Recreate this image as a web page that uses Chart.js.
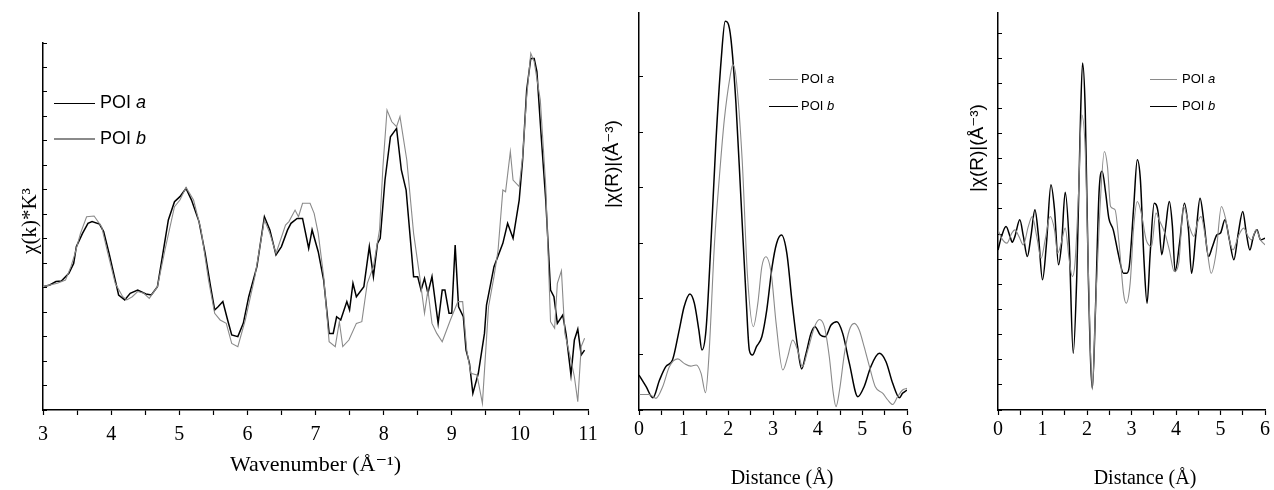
<!DOCTYPE html>
<html><head><meta charset="utf-8">
<script src="https://cdn.jsdelivr.net/npm/chart.js@4.4.1/dist/chart.umd.min.js"></script>
<style>
html,body{margin:0;padding:0;background:#fff;}
#wrap{position:relative;width:1274px;height:490px;overflow:hidden;background:#fff;}
.panel{position:absolute;top:0;}
.lg{position:absolute;font-family:'Liberation Sans',Arial,sans-serif;color:#000;white-space:nowrap;}
.ln{position:absolute;}
</style></head><body>
<div id="wrap">
 <div class="panel" style="left:0px"><canvas id="c1" width="600" height="490"></canvas></div>
 <div class="panel" style="left:600px"><canvas id="c2" width="340" height="490"></canvas></div>
 <div class="panel" style="left:940px"><canvas id="c3" width="334" height="490"></canvas></div>
</div>
<script>
// ---------- DATA ----------
const seriesNames = ['POI a', 'POI b'];

// Panel 1: chi(k)*k^3 vs wavenumber
const kA = [3.00,3.10,3.19,3.27,3.38,3.45,3.49,3.58,3.66,3.72,3.83,3.89,3.97,4.06,4.11,4.20,4.28,4.39,4.51,4.59,4.68,4.76,4.84,4.93,5.01,5.10,5.18,5.29,5.38,5.46,5.52,5.57,5.64,5.71,5.77,5.86,5.94,6.02,6.14,6.25,6.33,6.42,6.50,6.59,6.64,6.73,6.81,6.90,6.95,7.04,7.12,7.20,7.26,7.31,7.37,7.46,7.50,7.55,7.60,7.71,7.79,7.85,7.91,7.95,8.02,8.10,8.19,8.26,8.33,8.44,8.50,8.55,8.60,8.65,8.71,8.80,8.86,8.90,8.96,9.00,9.05,9.10,9.17,9.21,9.26,9.31,9.39,9.48,9.51,9.62,9.75,9.82,9.90,9.99,10.04,10.10,10.16,10.21,10.25,10.31,10.38,10.45,10.50,10.55,10.63,10.68,10.75,10.80,10.85,10.90,10.95];
const chiA = [5.04,5.11,5.25,5.27,5.59,5.99,6.68,7.22,7.63,7.70,7.60,7.29,6.40,5.31,4.70,4.50,4.77,4.90,4.74,4.70,5.04,6.40,7.77,8.51,8.72,9.06,8.58,7.70,6.40,5.04,4.09,4.22,4.43,3.68,3.07,3.00,3.54,4.63,5.86,7.90,7.36,6.34,6.68,7.36,7.63,7.83,7.83,6.61,7.36,6.47,5.31,3.13,3.13,3.81,3.68,4.43,4.09,5.18,4.63,5.04,6.68,5.45,6.81,7.02,9.40,11.17,11.51,9.81,8.99,5.45,5.45,4.90,5.38,4.77,5.45,3.54,4.90,4.90,3.95,3.95,6.74,4.22,3.81,2.45,1.91,0.68,1.50,3.13,4.29,5.86,6.81,7.63,7.02,8.58,10.22,13.08,14.37,14.37,13.83,11.31,8.58,4.90,4.63,3.54,3.88,3.07,1.43,2.86,3.30,2.25,2.45];
const kB = [3.00,3.21,3.33,3.41,3.47,3.55,3.64,3.75,3.86,3.94,4.06,4.17,4.23,4.31,4.39,4.48,4.56,4.68,4.79,4.93,5.01,5.10,5.21,5.32,5.43,5.52,5.60,5.69,5.77,5.86,5.97,6.11,6.25,6.33,6.42,6.56,6.61,6.70,6.75,6.81,6.92,6.98,7.04,7.12,7.20,7.29,7.35,7.40,7.49,7.60,7.68,7.76,7.85,7.94,7.99,8.05,8.12,8.19,8.24,8.34,8.44,8.53,8.60,8.65,8.71,8.78,8.86,8.98,9.09,9.16,9.22,9.28,9.37,9.45,9.54,9.62,9.68,9.75,9.79,9.86,9.90,9.99,10.04,10.10,10.16,10.21,10.30,10.38,10.45,10.51,10.55,10.61,10.66,10.75,10.80,10.85,10.90,10.95];
const chiB = [5.04,5.18,5.31,5.86,6.40,7.22,7.90,7.93,7.49,6.54,5.18,4.63,4.50,4.63,4.84,4.77,4.56,5.04,6.54,8.31,8.58,9.10,8.58,7.36,5.31,3.95,3.68,3.54,2.72,2.59,3.68,5.45,7.77,7.22,6.40,7.56,7.70,8.17,7.90,8.45,8.45,8.04,7.22,5.45,2.79,2.59,3.61,2.59,2.86,3.54,3.61,5.18,5.86,7.36,9.95,12.26,11.78,11.58,11.99,10.22,7.22,5.45,3.95,4.90,3.54,3.13,2.79,3.68,4.43,4.43,2.45,1.50,1.43,0.27,4.22,5.45,6.54,8.99,8.92,10.56,9.40,9.13,10.35,12.81,14.58,14.24,12.67,9.13,3.61,3.34,5.18,5.69,3.13,2.04,1.36,0.34,2.59,2.93];

// Panel 2: |chi(R)| vs distance
const rA2 = [0.00,0.23,0.38,0.53,0.68,0.87,1.01,1.16,1.28,1.39,1.49,1.56,1.69,1.80,1.91,2.04,2.10,2.17,2.31,2.43,2.56,2.66,2.75,2.84,2.96,3.07,3.22,3.33,3.44,3.55,3.66,3.78,3.93,4.04,4.15,4.26,4.35,4.41,4.49,4.60,4.71,4.82,4.93,5.04,5.16,5.29,5.46,5.57,5.68,5.79,5.90,6.00];
const magA = [0.28,0.28,0.21,0.42,0.78,0.92,0.84,0.79,0.81,0.66,0.31,0.90,3.00,4.20,5.23,6.01,6.22,6.01,4.50,2.40,1.50,1.92,2.58,2.76,2.46,1.56,0.72,0.96,1.26,1.08,0.78,1.08,1.50,1.63,1.50,0.96,0.30,0.06,0.36,1.02,1.44,1.56,1.44,1.14,0.78,0.42,0.30,0.18,0.10,0.24,0.36,0.39];
const rB2 = [0.00,0.16,0.31,0.46,0.60,0.75,0.90,1.01,1.14,1.24,1.34,1.41,1.50,1.61,1.72,1.84,1.93,1.99,2.06,2.17,2.28,2.40,2.47,2.54,2.63,2.75,2.86,2.98,3.08,3.19,3.31,3.43,3.55,3.64,3.74,3.85,3.94,4.06,4.17,4.30,4.43,4.56,4.71,4.90,5.04,5.19,5.38,5.53,5.68,5.83,5.90,6.00];
const magB = [0.63,0.42,0.22,0.54,0.78,0.90,1.44,1.86,2.09,1.92,1.44,1.08,1.44,3.00,4.80,6.31,7.00,6.97,6.67,5.53,3.84,1.98,1.08,0.99,1.14,1.32,1.80,2.58,3.00,3.15,2.82,1.92,1.14,0.74,1.02,1.38,1.50,1.35,1.32,1.53,1.59,1.38,0.84,0.24,0.42,0.78,1.02,0.87,0.48,0.22,0.30,0.36];

// Panel 3: real part of chi(R) vs distance
const rA3 = [0.00,0.08,0.20,0.31,0.38,0.47,0.57,0.68,0.77,0.87,0.97,1.06,1.17,1.27,1.34,1.42,1.51,1.60,1.67,1.73,1.81,1.88,1.96,2.03,2.12,2.19,2.29,2.39,2.46,2.53,2.63,2.72,2.82,2.88,2.97,3.05,3.13,3.22,3.33,3.45,3.55,3.62,3.75,3.85,3.96,4.06,4.17,4.30,4.40,4.48,4.56,4.68,4.79,4.90,5.02,5.12,5.20,5.28,5.40,5.52,5.62,5.70,5.80,5.90,6.00];
const reA = [7.17,6.84,6.64,7.04,7.17,6.91,6.57,7.30,7.70,6.91,6.04,6.77,7.70,7.17,6.24,6.64,7.24,5.98,5.31,5.84,8.63,11.75,10.36,5.58,0.80,3.98,7.97,10.29,9.69,8.10,7.97,6.64,4.65,4.25,5.05,7.30,8.30,7.84,6.77,6.51,7.84,7.57,7.04,6.37,5.51,5.84,8.10,7.30,6.91,7.44,7.70,6.64,5.44,6.24,8.10,7.57,6.77,6.37,6.91,7.24,6.91,6.77,7.17,6.77,6.57];
const rB3 = [0.00,0.08,0.18,0.27,0.32,0.38,0.49,0.57,0.66,0.74,0.83,0.91,1.00,1.09,1.19,1.27,1.36,1.43,1.51,1.60,1.69,1.77,1.84,1.90,1.96,2.03,2.12,2.19,2.27,2.34,2.42,2.49,2.59,2.70,2.82,2.89,2.95,3.05,3.13,3.20,3.28,3.35,3.42,3.51,3.60,3.68,3.76,3.85,3.92,3.98,4.08,4.19,4.28,4.35,4.45,4.54,4.63,4.73,4.82,4.92,5.00,5.10,5.20,5.30,5.40,5.50,5.58,5.66,5.74,5.82,5.90,6.00];
const reB = [6.37,6.91,7.30,6.91,6.68,6.91,7.57,6.91,6.11,6.91,7.97,6.91,5.18,6.64,8.96,7.97,5.78,6.64,8.67,6.64,2.26,5.31,10.62,13.81,11.95,5.31,0.86,3.98,8.63,9.50,8.63,7.64,7.17,6.24,5.44,5.44,5.71,8.10,9.96,9.16,5.98,4.25,6.24,8.23,7.84,6.18,7.17,8.30,7.30,5.51,6.64,8.23,7.17,5.44,7.04,8.43,7.44,6.11,6.51,6.97,7.04,7.57,6.77,5.98,7.04,7.90,7.04,6.37,6.91,7.17,6.77,6.84];

// axis ranges
const kRange = [3, 11];
const rRange = [0, 6];
const yMax1 = 15, yMax2 = 7.15, yMax3 = 15.8;

// ---------- STYLE ----------
const SERIF = "'Liberation Serif','Times New Roman','DejaVu Serif',serif";
const SANS = "'Liberation Sans',Arial,'DejaVu Sans',sans-serif";
const BLACK = '#000000', GRAY = '#8a8a8a';

const pts = (xs, ys) => xs.map((x, i) => ({x: x, y: ys[i]}));

// axis titles placed at exact spots
const axisTitlesPlugin = {
  id: 'axisTitles',
  afterDraw(chart, args, opts) {
    if (!opts || !opts.items) return;
    const ctx = chart.ctx;
    opts.items.forEach(t => {
      ctx.save();
      ctx.translate(t.x, t.y);
      if (t.rotate) ctx.rotate(-Math.PI / 2);
      ctx.font = t.font;
      ctx.fillStyle = '#000';
      ctx.textAlign = 'center';
      ctx.textBaseline = 'middle';
      ctx.fillText(t.text, 0, 0);
      ctx.restore();
    });
  }
};
Chart.register(axisTitlesPlugin);

function xAxis(range, height, tickSize, tickPad, title, titleSize, titlePadBottom) {
  return {
    type: 'linear', position: 'bottom', min: range[0], max: range[1],
    afterFit: s => { s.height = height; s.paddingLeft = 0; s.paddingRight = 0; },
    ticks: {stepSize: 0.5, autoSkip: false, maxRotation: 0, minRotation: 0, padding: tickPad, color: '#000',
      font: {family: SERIF, size: tickSize},
      callback: v => (Math.abs(v - Math.round(v)) < 1e-9 ? String(Math.round(v)) : '')},
    grid: {display: true, drawOnChartArea: false, drawTicks: true, tickLength: 5, tickColor: '#000', tickWidth: 1.2},
    border: {display: true, color: '#000', width: 1.5},
    title: {display: !!title, text: title || '', color: '#000', font: {family: SERIF, size: titleSize},
      padding: {top: 0, bottom: titlePadBottom}}
  };
}
function yAxis(max, width) {
  return {
    type: 'linear', position: 'left', min: 0, max: max,
    afterFit: s => { s.width = width; s.paddingTop = 0; s.paddingBottom = 0; },
    afterBuildTicks: s => { s.ticks = s.ticks.filter(t => Math.abs(t.value - Math.round(t.value)) < 1e-9); },
    ticks: {display: false, stepSize: 1},
    grid: {display: true, drawOnChartArea: false, drawTicks: true, tickLength: -4, tickColor: '#000', tickWidth: 1},
    border: {display: true, color: '#000', width: 1.5}
  };
}
function ds(label, data, color, width, smooth) {
  return {label: label, data: data, borderColor: color, backgroundColor: color, borderWidth: width,
    pointRadius: 0, fill: false, tension: 0, cubicInterpolationMode: smooth ? 'monotone' : 'default'};
}
function makeChart(id, datasets, x, y, padding, titles) {
  return new Chart(document.getElementById(id), {
    type: 'line',
    data: {datasets: datasets},
    options: {
      responsive: false, animation: false,
      layout: {padding: padding},
      scales: {x: x, y: y},
      plugins: {legend: {display: false}, tooltip: {enabled: false}, axisTitles: {items: titles}}
    }
  });
}

// Panel 1
makeChart('c1',
  [ds(seriesNames[1], pts(kB, chiB), GRAY, 1.1, false),
   ds(seriesNames[0], pts(kA, chiA), BLACK, 1.5, false)],
  xAxis(kRange, 80, 20, 8, 'Wavenumber (Å⁻¹)', 22, 12),
  yAxis(yMax1, 43),
  {left: 0, top: 43, right: 12, bottom: 0},
  [{text: 'χ(k)*K³', x: 30, y: 221, rotate: true, font: "21px " + SERIF}]);

// Panel 2
makeChart('c2',
  [ds(seriesNames[0], pts(rA2, magA), GRAY, 1.1, true),
   ds(seriesNames[1], pts(rB2, magB), BLACK, 1.5, true)],
  xAxis(rRange, 80, 20, 3, null, 20, 0),
  yAxis(yMax2, 39),
  {left: 0, top: 13, right: 33, bottom: 0},
  [{text: '|χ(R)|(Å⁻³)', x: 13, y: 164, rotate: true, font: "19px " + SANS},
   {text: 'Distance (Å)', x: 182, y: 479, rotate: false, font: "20px " + SERIF}]);

// Panel 3
makeChart('c3',
  [ds(seriesNames[0], pts(rA3, reA), GRAY, 1.1, true),
   ds(seriesNames[1], pts(rB3, reB), BLACK, 1.5, true)],
  xAxis(rRange, 80, 20, 3, null, 20, 0),
  yAxis(yMax3, 58),
  {left: 0, top: 13, right: 9, bottom: 0},
  [{text: '|χ(R)|(Å⁻³)', x: 38, y: 148, rotate: true, font: "19px " + SANS},
   {text: 'Distance (Å)', x: 205, y: 479, rotate: false, font: "20px " + SERIF}]);

// ---------- LEGENDS (HTML) ----------
function legend(opts) {
  const wrap = document.getElementById('wrap');
  opts.items.forEach((it, i) => {
    const y = opts.ys[i];
    const ln = document.createElement('div');
    ln.className = 'ln';
    ln.style.left = opts.x1 + 'px';
    ln.style.width = (opts.x2 - opts.x1) + 'px';
    ln.style.top = (y - it.w / 2) + 'px';
    ln.style.height = it.w + 'px';
    ln.style.background = it.color;
    wrap.appendChild(ln);
    const tx = document.createElement('div');
    tx.className = 'lg';
    tx.style.left = opts.tx + 'px';
    tx.style.fontSize = opts.size + 'px';
    tx.style.lineHeight = (opts.size * 1.2) + 'px';
    tx.style.top = (y - opts.size * 0.6 - 0.5) + 'px';
    const parts = it.name.split(' ');
    tx.innerHTML = parts[0] + ' <i>' + parts[1] + '</i>';
    wrap.appendChild(tx);
  });
}
legend({x1: 54, x2: 95, tx: 100, size: 18, ys: [103.5, 139],
  items: [{name: seriesNames[0], color: BLACK, w: 1.5}, {name: seriesNames[1], color: GRAY, w: 1.1}]});
legend({x1: 769, x2: 798, tx: 801, size: 13, ys: [79.5, 106.5],
  items: [{name: seriesNames[0], color: GRAY, w: 1.1}, {name: seriesNames[1], color: BLACK, w: 1.5}]});
legend({x1: 1150, x2: 1177, tx: 1182, size: 13, ys: [79.5, 106.5],
  items: [{name: seriesNames[0], color: GRAY, w: 1.1}, {name: seriesNames[1], color: BLACK, w: 1.5}]});
</script>
</body></html>
